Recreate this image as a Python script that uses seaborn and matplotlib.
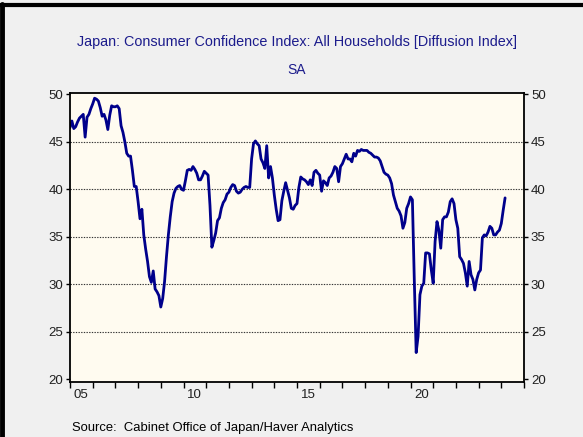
import numpy as np
import pandas as pd
import matplotlib
matplotlib.use("Agg")
import matplotlib.pyplot as plt
import seaborn as sns

# Monthly values, Jan 2005 onward
v2005 = [46.5, 47.2, 46.4, 46.6, 47.1, 47.5, 47.7, 47.9, 45.5, 47.6, 47.9, 48.5]
v2006 = [49.0, 49.6, 49.5, 49.3, 48.6, 47.7, 47.9, 47.3, 46.3, 47.8, 48.8, 48.7]
v2007 = [48.7, 48.8, 48.5, 46.7, 46.0, 45.0, 43.8, 43.5, 43.5, 42.0, 40.3, 40.3]
v2008 = [38.7, 36.9, 37.9, 35.2, 33.7, 32.4, 30.8, 30.2, 31.4, 29.5, 29.2, 28.8]
v2009 = [27.6, 28.5, 30.3, 32.9, 35.2, 37.1, 38.7, 39.6, 40.1, 40.3, 40.4, 40.0]
v2010 = [39.9, 40.9, 42.0, 42.1, 42.0, 42.4, 42.1, 41.7, 41.0, 41.0, 41.4, 41.9]
v2011 = [41.7, 41.5, 38.3, 33.9, 34.6, 35.4, 36.7, 37.0, 38.0, 38.6, 38.9, 39.5]
v2012 = [39.7, 40.2, 40.5, 40.4, 39.8, 39.6, 39.7, 40.0, 40.2, 40.3, 40.2, 40.2]
v2013 = [43.2, 44.8, 45.1, 44.8, 44.6, 43.2, 42.8, 42.2, 44.6, 41.2, 42.4, 41.2]
v2014 = [39.4, 37.9, 36.7, 36.8, 38.8, 39.8, 40.7, 39.9, 39.1, 38.0, 37.9, 38.3]
v2015 = [38.5, 40.2, 41.3, 41.1, 41.0, 40.8, 40.5, 41.0, 40.4, 41.8, 42.0, 41.7]
v2016 = [41.5, 39.8, 40.9, 40.7, 40.4, 41.2, 41.4, 41.8, 42.4, 42.2, 40.8, 42.4]
v2017 = [42.7, 43.2, 43.7, 43.2, 43.2, 42.9, 43.8, 43.5, 44.1, 44.0, 44.2, 44.1]
v2018 = [44.1, 44.1, 43.9, 43.8, 43.6, 43.4, 43.4, 43.3, 43.0, 42.4, 41.8, 41.6]
v2019 = [41.5, 41.2, 40.6, 39.4, 38.7, 38.0, 37.7, 37.2, 35.9, 36.5, 38.0, 38.5]
v2020 = [39.2, 38.9, 30.5, 22.8, 24.5, 28.9, 29.8, 30.1, 33.3, 33.3, 33.2, 31.5]
v2021 = [30.1, 34.5, 36.6, 35.7, 33.8, 36.8, 37.1, 37.1, 37.6, 38.7, 39.0, 38.5]
v2022 = [36.8, 35.9, 32.9, 32.6, 32.2, 31.2, 29.8, 32.4, 31.0, 30.5, 29.4, 30.5]
v2023 = [31.2, 31.5, 34.9, 35.2, 35.1, 35.5, 36.1, 35.9, 35.2, 35.2, 35.5, 35.7]
v2024 = [36.4, 37.8, 39.1]

values = (v2005 + v2006 + v2007 + v2008 + v2009 + v2010 + v2011 + v2012 + v2013
          + v2014 + v2015 + v2016 + v2017 + v2018 + v2019 + v2020 + v2021
          + v2022 + v2023 + v2024)
start_year = 2005
yticks = [20, 25, 30, 35, 40, 45, 50]
year_labels = ["05", "10", "15", "20"]
label_years = [2005, 2010, 2015, 2020]

df = pd.DataFrame({"t": start_year + np.arange(len(values)) / 12.0, "v": values})

sns.set_theme(style="white")
plt.rcParams["font.family"] = ["Liberation Sans", "DejaVu Sans"]

fig = plt.figure(figsize=(5.83, 4.37), dpi=100, facecolor="#F0F0F0")
ax = fig.add_axes([70 / 583, 1 - 382 / 437, (524 - 70) / 583, (382 - 93) / 437])
ax.set_facecolor("#FFFBF0")

sns.lineplot(data=df, x="t", y="v", ax=ax, color="#00008B", linewidth=2.0)

ax.set_xlim(2005.0, 2025.0)
ax.set_ylim(19.7, 50.15)
ax.set_xlabel("")
ax.set_ylabel("")

# y ticks both sides
ax.set_yticks(yticks)
ax.set_yticklabels([str(y) for y in yticks])
ax.tick_params(axis="y", which="major", left=True, right=True, labelleft=True,
               labelright=True, direction="out", length=3, width=1, color="black",
               labelsize=9.5, labelcolor="#202020", pad=2)

# x ticks at year boundaries, labels centered in years
ax.set_xticks(np.arange(2005, 2026, 1))
ax.set_xticklabels([])
ax.set_xticks([y + 0.5 for y in label_years], minor=True)
ax.set_xticklabels(year_labels, minor=True)
ax.tick_params(axis="x", which="major", bottom=True, direction="out", length=4,
               width=1, color="black")
ax.tick_params(axis="x", which="minor", bottom=True, length=0, labelsize=9.5,
               labelcolor="#202020", pad=5)

# dotted grid lines
for g in [25, 30, 35, 40, 45]:
    ax.axhline(g, color="#333333", linestyle=(0, (1.2, 1.2)), linewidth=0.8, zorder=0)

for s in ax.spines.values():
    s.set_visible(True)
    s.set_color("black")
    s.set_linewidth(1.3)

fig.text(297 / 583, 1 - 42 / 437, "Japan: Consumer Confidence Index: All Households [Diffusion Index]",
         ha="center", va="center", color="#1C1C8C", fontsize=10.4)
fig.text(297 / 583, 1 - 70 / 437, "SA", ha="center", va="center", color="#1C1C8C", fontsize=10)
fig.text(72 / 583, 1 - 428 / 437, "Source:  Cabinet Office of Japan/Haver Analytics",
         ha="left", va="center", color="black", fontsize=9.4)

# outer black frame (left and top)
fig.add_artist(plt.Line2D([2 / 583, 2 / 583], [0, 1 - 4 / 437], transform=fig.transFigure,
                          color="black", linewidth=3.5))
fig.add_artist(plt.Line2D([0, 1], [1 - 5 / 437, 1 - 5 / 437], transform=fig.transFigure,
                          color="black", linewidth=3.0))

fig.savefig("out.png", dpi=100, facecolor=fig.get_facecolor())
